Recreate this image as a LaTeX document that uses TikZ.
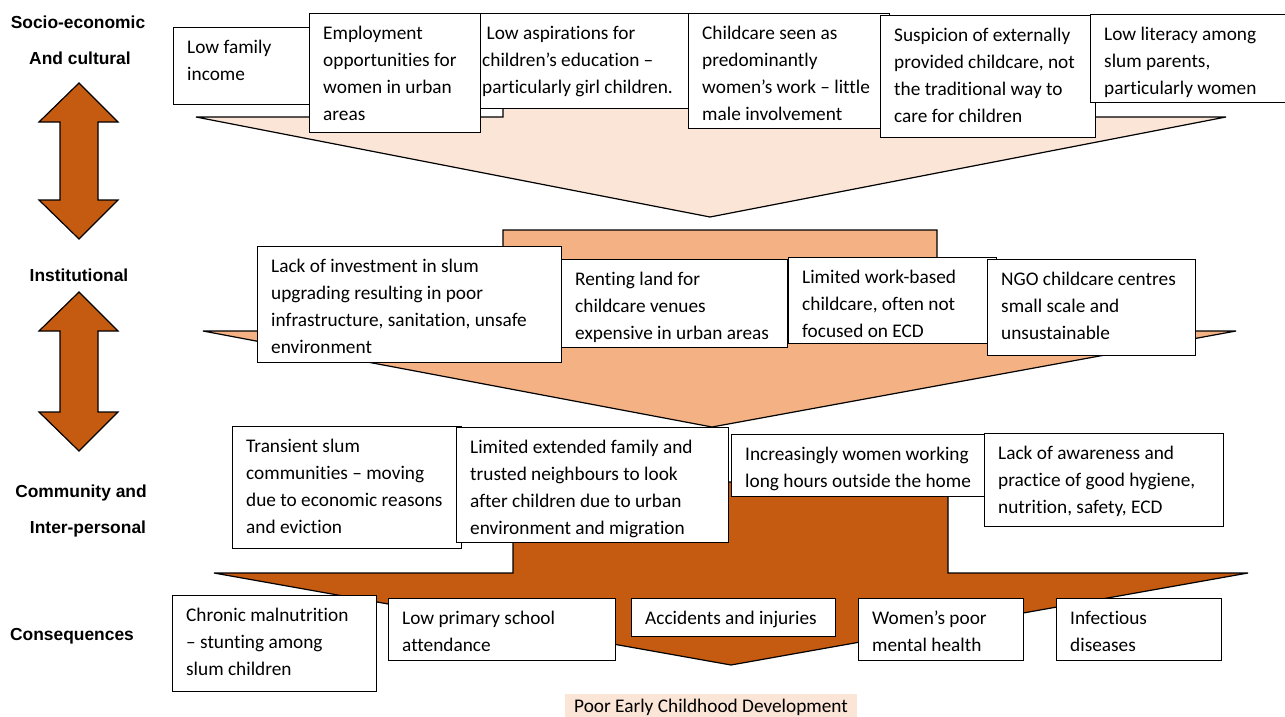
\documentclass[tikz,border=0pt]{standalone}
\usepackage{fontspec}
\newfontfamily\boxfont{Carlito}[Ligatures=NoCommon]
\newfontfamily\labfont{Liberation Sans}
\definecolor{peach}{HTML}{FBE5D6}
\definecolor{sand}{HTML}{F4B183}
\definecolor{rust}{HTML}{C55A11}

% framed text box: [padding]{name}{x}{y}{width}{height}{text}
\newcommand\cbox[7][14]{%
  \node[frame, minimum width=#5pt, minimum height=#6pt] (#2) at (#3,#4) {};
  \node[txt] (#2-t) at ([xshift=#1pt, yshift=-7pt]#2.north west) {\strut #7};}

\begin{document}
\begin{tikzpicture}[x=1pt, y=-1pt,
  frame/.style={draw=black, line width=0.9pt, fill=white, anchor=north west, inner sep=0pt},
  txt/.style={anchor=north west, inner sep=0pt, align=left, font=\boxfont\fontsize{19.3}{27}\selectfont},
  lab/.style={anchor=base, font=\labfont\bfseries\fontsize{17.4}{20}\selectfont},
  blockarrow/.style={draw=black, line width=1.2pt, line join=miter}]
\useasboundingbox (0,0) rectangle (1285,717);

% level labels
\node[lab] (se1) at (78,29) {Socio-economic};
\node[lab] (se2) at (80,65) {And cultural};
\node[lab] (inst) at (79,281) {Institutional};
\node[lab] (com1) at (81,497) {Community and};
\node[lab] (com2) at (88,533) {Inter-personal};
\node[lab] (cons) at (72,640) {Consequences};

% double arrows between the levels
\foreach \t/\b in {83/239, 292/451}{
  \draw[blockarrow, fill=rust] (79,\t) -- (118,\t+39) -- (98,\t+39) -- (98,\b-39)
    -- (118,\b-39) -- (79,\b) -- (39,\b-39) -- (60,\b-39) -- (60,\t+39)
    -- (39,\t+39) -- cycle;
}

% big block arrows
\draw[blockarrow, fill=peach] (503,20) -- (503,117) -- (196,117) -- (710,217)
  -- (1226,117) -- (937,117) -- (937,20) -- cycle;
\draw[blockarrow, fill=sand] (503,230) -- (503,331) -- (203,331) -- (712,427)
  -- (1236,331) -- (937,331) -- (937,230) -- cycle;
\draw[blockarrow, fill=rust] (513,482) -- (513,573) -- (214,573) -- (731,665)
  -- (1248,573) -- (948,573) -- (948,482) -- cycle;

% socio-economic and cultural
\cbox{income}{173}{27}{145}{77}{Low family\\income}
\cbox{jobs}{309}{13}{171}{119}{Employment\\opportunities for\\women in urban\\areas}
\cbox[2]{aspire}{480}{13}{211}{95}{\hspace*{.23em}Low aspirations for\\children’s education –\\particularly girl children.}
\cbox{malecare}{688}{13}{201}{115}{Childcare seen as\\predominantly\\women’s work – little\\male involvement}
\cbox{suspicion}{880}{15}{215}{122}{Suspicion of externally\\provided childcare, not\\the traditional way to\\care for children}
\cbox{literacy}{1090}{14}{200}{88}{Low literacy among\\slum parents,\\particularly women}

% institutional
\cbox{invest}{257}{246}{304}{116}{Lack of investment in slum\\upgrading resulting in poor\\infrastructure, sanitation, unsafe\\environment}
\cbox{renting}{561}{259}{226}{88}{Renting land for\\childcare venues\\expensive in urban areas}
\cbox{workcare}{788}{257}{208}{86}{Limited work-based\\childcare, often not\\focused on ECD}
\cbox{ngo}{987}{259}{208}{96}{NGO childcare centres\\small scale and\\unsustainable}

% community and inter-personal
\cbox{transient}{232}{426}{229}{122}{Transient slum\\communities – moving\\due to economic reasons\\and eviction}
\cbox{family}{456}{427}{272}{115}{Limited extended family and\\trusted neighbours to look\\after children due to urban\\environment and migration}
\cbox{hours}{731}{434}{254}{62}{Increasingly women working\\long hours outside the home}
\cbox{hygiene}{984}{433}{239}{93}{Lack of awareness and\\practice of good hygiene,\\nutrition, safety, ECD}

% consequences
\cbox{stunting}{172}{595}{204}{96}{Chronic malnutrition\\– stunting among\\slum children}
\cbox{school}{388}{598}{227}{62}{Low primary school\\attendance}
\cbox{injury}{631}{598}{204}{38}{Accidents and injuries}
\cbox{mental}{858}{598}{165}{62}{Women’s poor\\mental health}
\cbox{infection}{1056}{598}{165}{62}{Infectious\\diseases}

\node[anchor=base west, fill=peach, inner xsep=9pt, inner ysep=5pt,
  font=\boxfont\fontsize{19.3}{27}\selectfont] (ecd) at (565,712) {Poor Early Childhood Development};
\end{tikzpicture}
\end{document}
